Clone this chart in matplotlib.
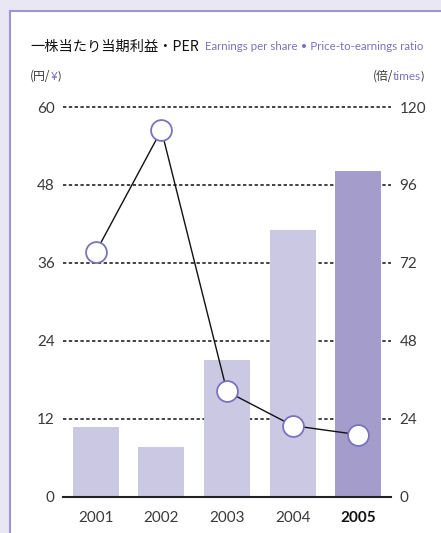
import matplotlib
matplotlib.use("Agg")
import matplotlib.pyplot as plt
from matplotlib.patches import Rectangle
from matplotlib.lines import Line2D

plt.rcParams['font.family'] = ['Lato', 'Noto Sans CJK JP', 'DejaVu Sans']

years = ["2001", "2002", "2003", "2004", "2005"]
eps = [10.8, 7.7, 21.1, 41.0, 50.1]
per = [75.3, 112.9, 32.4, 21.9, 19.1]
left_ticks = [0, 12, 24, 36, 48, 60]
right_ticks = [0, 24, 48, 72, 96, 120]

bg = "#e9e7f4"
purple = "#7b72c0"
light_bar = "#cbc8e4"
dark_bar = "#a49dcc"
txt = "#3a3a3a"

W, H = 441, 533
fig = plt.figure(figsize=(4.41, 5.33), dpi=100)
fig.patch.set_facecolor(bg)
panel = Rectangle((10/W, 0), 1, 1 - 11/H, transform=fig.transFigure,
                  facecolor="white", edgecolor="none", zorder=-5)
fig.add_artist(panel)
fig.add_artist(Line2D([10/W, 10/W], [0, 1 - 11/H], transform=fig.transFigure, color="#9d96d0", lw=1.5, zorder=-4))
fig.add_artist(Line2D([10/W, 1], [1 - 11/H, 1 - 11/H], transform=fig.transFigure, color="#9d96d0", lw=1.5, zorder=-4))

ax = fig.add_axes([63/W, 1 - 496.7/H, 328/W, (496.7 - 107)/H])
ax.set_zorder(1)
ax.set_facecolor("none")
x = list(range(len(years)))
colors = [light_bar] * 4 + [dark_bar]
ax.bar(x, eps, width=0.70, color=colors, zorder=1)
ax.set_xlim(-0.5, 4.5)
ax.set_ylim(0, 60)
ax.set_yticks(left_ticks)
ax.set_yticklabels([str(v) for v in left_ticks])
for v in left_ticks[1:]:
    ax.axhline(v, color="#111111", lw=1.1, ls=(0, (2.2, 1.6)), zorder=0.5, clip_on=False)
ax.axhline(0, color="#222222", lw=1.5, zorder=3, clip_on=False)
for s in ax.spines.values():
    s.set_visible(False)
ax.tick_params(axis='y', length=0, pad=6, labelsize=11, colors=txt)
ax.tick_params(axis='x', length=0, pad=10, labelsize=11, colors=txt)
ax.set_xticks(x)
ax.set_xticklabels(years)
for lab in ax.get_xticklabels():
    if lab.get_text() == "2005":
        lab.set_fontweight("bold")
        lab.set_color("#111111")

ax2 = ax.twinx()
ax2.set_zorder(2)
ax2.set_facecolor("none")
ax2.set_ylim(0, 120)
ax2.set_yticks(right_ticks)
ax2.set_yticklabels([str(v) for v in right_ticks])
for s in ax2.spines.values():
    s.set_visible(False)
ax2.tick_params(axis='y', length=0, pad=6, labelsize=11, colors=txt)
ax2.plot(x, per, color="#111111", lw=1.0, zorder=4, marker="o", markersize=15,
         markerfacecolor="white", markeredgecolor=purple, markeredgewidth=1.3, clip_on=False)

fig.canvas.draw()
r = fig.canvas.get_renderer()


def fit(t, width_px):
    for _ in range(6):
        bb = t.get_window_extent(r)
        if bb.width <= 0:
            break
        t.set_fontsize(t.get_fontsize() * width_px / bb.width)


# titles
tj = fig.text(30/W, 1 - 47/H, "一株当たり当期利益・PER", fontsize=10.5, color="#111111",
              family=['Noto Sans CJK JP'], va="center", ha="left")
fit(tj, 168)
te = fig.text(205/W, 1 - 47/H, "Earnings per share • Price-to-earnings ratio", fontsize=9.3,
              color=purple, va="center", ha="left")
fit(te, 218)

t1 = fig.text(30/W, 1 - 76/H, "(円/", fontsize=8.5, color=txt,
              family=['Noto Sans CJK JP'], va="center", ha="left")
bb = t1.get_window_extent(r)
t2 = fig.text(bb.x1 / fig.bbox.width, 1 - 76/H, "¥", fontsize=8.5, color=purple, va="center", ha="left")
bb2 = t2.get_window_extent(r)
fig.text(bb2.x1 / fig.bbox.width, 1 - 76/H, ")", fontsize=8.5, color=txt, va="center", ha="left")

t3 = fig.text(424/W, 1 - 76/H, ")", fontsize=8.5, color=txt, va="center", ha="right")
bb3 = t3.get_window_extent(r)
t4 = fig.text(bb3.x0 / fig.bbox.width, 1 - 76/H, "times", fontsize=8.5, color=purple, va="center", ha="right")
bb4 = t4.get_window_extent(r)
fig.text(bb4.x0 / fig.bbox.width, 1 - 76/H, "(倍/", fontsize=8.5, color=txt,
         family=['Noto Sans CJK JP'], va="center", ha="right")

fig.savefig("out.png", dpi=100, facecolor=bg)
